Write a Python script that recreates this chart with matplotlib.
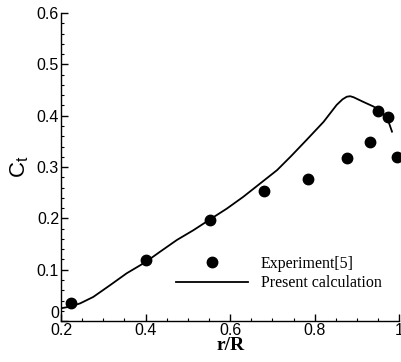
import matplotlib
matplotlib.use("Agg")
import matplotlib.pyplot as plt
from matplotlib.ticker import MultipleLocator

# experiment[5]
r_exp = [0.223, 0.40, 0.553, 0.680, 0.784, 0.876, 0.930, 0.951, 0.973, 0.995]
ct_exp = [0.036, 0.119, 0.197, 0.253, 0.277, 0.317, 0.348, 0.410, 0.398, 0.320]

# present calculation
r_calc = [0.200, 0.220, 0.245, 0.276, 0.316, 0.355, 0.400, 0.434, 0.474, 0.513,
          0.556, 0.592, 0.631, 0.671, 0.711, 0.745, 0.781, 0.821, 0.852, 0.866,
          0.876, 0.884, 0.892, 0.915, 0.939, 0.959, 0.975, 0.983]
ct_calc = [0.025, 0.028, 0.0345, 0.047, 0.070, 0.093, 0.115, 0.135, 0.158, 0.177,
           0.200, 0.219, 0.242, 0.268, 0.294, 0.322, 0.353, 0.388, 0.421, 0.432,
           0.437, 0.438, 0.436, 0.427, 0.418, 0.408, 0.388, 0.369]

fig = plt.figure(figsize=(4.02, 3.62), dpi=100)
ax = fig.add_axes([0.152, 0.113, 0.841, 0.851])

ax.plot(r_exp, ct_exp, 'o', color='black', markersize=7.5, label='Experiment[5]',
        clip_on=False, zorder=3)
ax.plot(r_calc, ct_calc, '-', color='black', lw=1.3, label='Present calculation')

ax.set_xlim(0.2, 1.0)
ax.set_ylim(0, 0.6)
ax.set_xticks([0.2, 0.4, 0.6, 0.8, 1.0])
ax.set_xticklabels(['0.2', '0.4', '0.6', '0.8', '1'])
ax.set_yticks([0, 0.1, 0.2, 0.3, 0.4, 0.5, 0.6])
ax.set_yticklabels(['0', '0.1', '0.2', '0.3', '0.4', '0.5', '0.6'])
ax.xaxis.set_minor_locator(MultipleLocator(0.05))
ax.yaxis.set_minor_locator(MultipleLocator(0.02))

for s in ['top', 'right']:
    ax.spines[s].set_visible(False)
for s in ['left', 'bottom']:
    ax.spines[s].set_linewidth(1.0)

ax.tick_params(which='major', direction='in', length=5, width=1.0,
               labelsize=11.5, pad=1.5)
ax.tick_params(which='minor', direction='in', length=2.5, width=0.8)
for lab in ax.get_xticklabels() + ax.get_yticklabels():
    lab.set_fontfamily('Liberation Sans')
ax.get_yticklabels()[0].set_va('bottom')

ax.set_xlabel('r/R', fontsize=14, fontweight='bold', family='Liberation Serif',
              labelpad=-1)
ax.set_ylabel(r'$\mathregular{C_t}$', fontsize=16, family='Liberation Sans',
              labelpad=4)

leg = ax.legend(loc='lower right', bbox_to_anchor=(0.99, 0.05), frameon=False,
                prop={'family': 'Liberation Serif', 'size': 11.5},
                handlelength=4.5, handletextpad=0.8, labelspacing=0.22,
                numpoints=1)

fig.savefig('out.png', dpi=100)
